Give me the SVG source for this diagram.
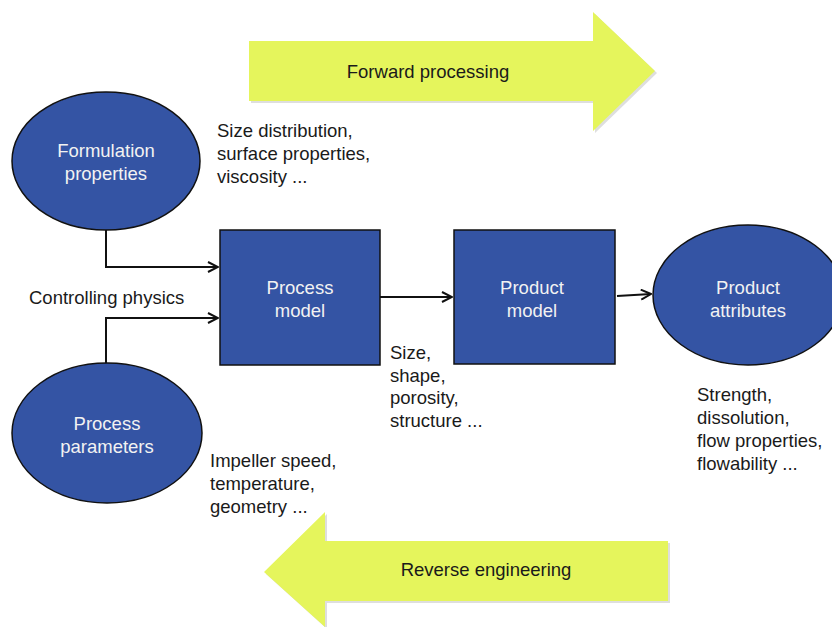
<svg xmlns="http://www.w3.org/2000/svg" width="832" height="627" viewBox="0 0 832 627">
<defs>
<style>
.node{fill:#3454a4;stroke:#111;stroke-width:1.5}
.nt{font-family:"Liberation Sans",Arial,sans-serif;font-size:18.5px;fill:#f2f2f2;text-anchor:middle}
.lt{font-family:"Liberation Sans",Arial,sans-serif;font-size:18.5px;fill:#1a1a1a}
.big{fill:#e5f55c}
.shadow{fill:#c8c8c8;opacity:0.6}
.con{fill:none;stroke:#111;stroke-width:2}
</style>
<marker id="ah" viewBox="0 0 12 12" refX="11" refY="6" markerWidth="12" markerHeight="12" markerUnits="userSpaceOnUse" orient="auto">
<path d="M1,1 L11,6 L1,11" fill="none" stroke="#111" stroke-width="2"/>
</marker>
</defs>
<rect width="832" height="627" fill="#fff"/>
<g id="forward-arrow">
<polygon class="shadow" points="251,43 595,43 595,14 657,73 595,133 595,103 251,103"/>
<polygon class="big" points="249,41 593,41 593,12 655,71 593,131 593,101 249,101"/>
<text class="lt" x="428" y="78" text-anchor="middle">Forward processing</text>
</g>
<g id="reverse-arrow">
<polygon class="shadow" points="266,574 327,514 327,543 670,543 670,603 327,603 327,629"/>
<polygon class="big" points="264,572 325,512 325,541 668,541 668,601 325,601 325,627"/>
<text class="lt" x="486" y="576" text-anchor="middle">Reverse engineering</text>
</g>
<g id="connectors">
<polyline class="con" points="106,230 106,267 218,267" marker-end="url(#ah)"/>
<polyline class="con" points="106,364 106,318 218,318" marker-end="url(#ah)"/>
<line class="con" x1="380" y1="297" x2="452" y2="297" marker-end="url(#ah)"/>
<line class="con" x1="617" y1="296" x2="651" y2="294" marker-end="url(#ah)"/>
</g>
<g id="formulation-properties">
<ellipse class="node" cx="106" cy="161" rx="94" ry="69"/>
<text class="nt" x="106" y="157">Formulation</text>
<text class="nt" x="106" y="180">properties</text>
</g>
<g id="process-parameters">
<ellipse class="node" cx="107" cy="433" rx="95" ry="70"/>
<text class="nt" x="107" y="430">Process</text>
<text class="nt" x="107" y="453">parameters</text>
</g>
<g id="process-model">
<rect class="node" x="220" y="230" width="160" height="135"/>
<text class="nt" x="300" y="294">Process</text>
<text class="nt" x="300" y="317">model</text>
</g>
<g id="product-model">
<rect class="node" x="454" y="230" width="161" height="134"/>
<text class="nt" x="532" y="294">Product</text>
<text class="nt" x="532" y="317">model</text>
</g>
<g id="product-attributes">
<ellipse class="node" cx="748" cy="295" rx="95" ry="70"/>
<text class="nt" x="748" y="294">Product</text>
<text class="nt" x="748" y="317">attributes</text>
</g>
<g id="labels">
<text class="lt" x="217" y="137">Size distribution,</text>
<text class="lt" x="217" y="160">surface properties,</text>
<text class="lt" x="217" y="183">viscosity ...</text>
<text class="lt" x="29" y="304">Controlling physics</text>
<text class="lt" x="210" y="467">Impeller speed,</text>
<text class="lt" x="210" y="490">temperature,</text>
<text class="lt" x="210" y="513">geometry ...</text>
<text class="lt" x="390" y="359">Size,</text>
<text class="lt" x="390" y="382">shape,</text>
<text class="lt" x="390" y="404">porosity,</text>
<text class="lt" x="390" y="427">structure ...</text>
<text class="lt" x="697" y="401">Strength,</text>
<text class="lt" x="697" y="424">dissolution,</text>
<text class="lt" x="697" y="447">flow properties,</text>
<text class="lt" x="697" y="470">flowability ...</text>
</g>
</svg>
